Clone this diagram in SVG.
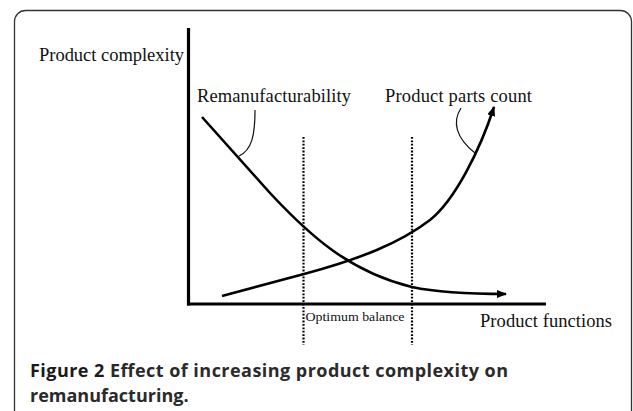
<svg xmlns="http://www.w3.org/2000/svg" width="633" height="411" viewBox="0 0 633 411">
<defs>
<style>
.lbl{font-family:"Liberation Serif","Times New Roman",serif;font-size:18.5px;fill:#111}
.small{font-family:"Liberation Serif","Times New Roman",serif;font-size:13px;fill:#111}
.cap{font-family:"Open Sans","Noto Sans",sans-serif;font-size:18px;font-weight:bold;fill:#2a2a2a}
.axis{stroke:#000;stroke-width:3.2;fill:none}
.curve{stroke:#000;stroke-width:2.6;fill:none}
.dot{stroke:#000;stroke-width:2.2;stroke-dasharray:1.8 1.6;fill:none}
.leader{stroke:#111;stroke-width:1.2;fill:none}
</style>
<marker id="ah" viewBox="0 0 10 8" refX="9" refY="4" markerWidth="10" markerHeight="8" markerUnits="userSpaceOnUse" orient="auto">
<path d="M0,0 L10,4 L0,8 Z" fill="#000"/>
</marker>
</defs>
<rect x="14.5" y="10.5" width="617" height="430" rx="11" ry="11" fill="#fff" stroke="#333" stroke-width="1.3"/>
<g id="axes">
<line class="axis" x1="188.5" y1="28" x2="188.5" y2="305.5"/>
<line class="axis" x1="187" y1="304" x2="546" y2="304"/>
</g>
<g id="connectors">
<path class="curve" d="M202,117 L270,193 C310,236 350,272 412,287 C440,293 470,294 506,294" marker-end="url(#ah)"/>
<path class="curve" d="M222,296 L304,274 C360,259 400,243 430,220 C455,200 480,150 494,107" marker-end="url(#ah)"/>
<line class="dot" x1="303.5" y1="137" x2="303.5" y2="345"/>
<line class="dot" x1="412" y1="137" x2="412" y2="345"/>
<path class="leader" d="M255,110 C255,135 252,150 239,156"/>
<path class="leader" d="M461,108 C452,122 456,138 475,153"/>
</g>
<g id="y-label"><text class="lbl" x="39" y="61" textLength="145">Product complexity</text></g>
<g id="x-label"><text class="lbl" x="480" y="327" textLength="132">Product functions</text></g>
<g id="remanufacturability"><text class="lbl" x="197" y="102" textLength="154">Remanufacturability</text></g>
<g id="parts-count"><text class="lbl" x="385" y="102" textLength="147">Product parts count</text></g>
<g id="optimum"><text class="small" x="305.5" y="321" textLength="99" lengthAdjust="spacingAndGlyphs">Optimum balance</text></g>
<g id="caption">
<text class="cap" x="30" y="377" textLength="478"><tspan fill="#1a1a1a">Figure 2</tspan> Effect of increasing product complexity on</text>
<text class="cap" x="30" y="402">remanufacturing.</text>
</g>
</svg>
